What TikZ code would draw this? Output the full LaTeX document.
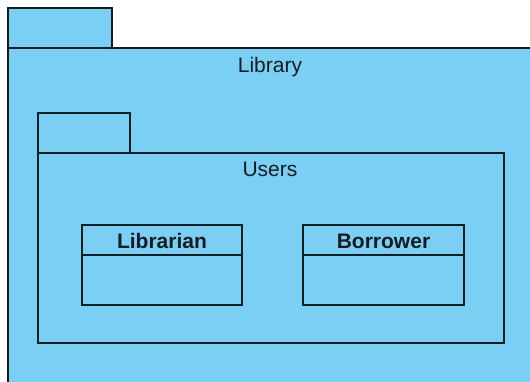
\documentclass[tikz,border=0pt]{standalone}
\usepackage{fontspec}
\setmainfont{Liberation Sans}
\definecolor{pkgblue}{HTML}{7ACFF5}
\definecolor{edge}{HTML}{151B1F}
\tikzset{
  shape box/.style={fill=pkgblue, draw=edge, line width=1.6pt},
  pkglabel/.style={inner sep=0pt, font=\fontsize{21}{25}\selectfont, text=edge},
  classlabel/.style={inner sep=0pt, font=\fontsize{21}{25}\selectfont\bfseries, text=edge}
}
\begin{document}
\begin{tikzpicture}[x=1pt,y=-1pt]
  \useasboundingbox (0,0) rectangle (530,381);
  \clip (0,0) rectangle (530,381);
  \fill[white] (0,0) rectangle (530,381);

  % outer package: Library
  \draw[shape box] (8,8) rectangle (112,48);
  \draw[shape box] (8,48) rectangle (548,400);
  \node[pkglabel] (library) at (270,67) {Library};

  % inner package: Users
  \draw[shape box] (38,113) rectangle (130,153);
  \draw[shape box] (38,153) rectangle (504,343);
  \node[pkglabel] (users) at (270,169) {Users};

  % class Librarian
  \draw[shape box] (82,225) rectangle (242,305);
  \draw[edge, line width=1.6pt] (82,255) -- (242,255);
  \node[classlabel] (librarian) at (162,241) {Librarian};

  % class Borrower
  \draw[shape box] (303,225) rectangle (464,305);
  \draw[edge, line width=1.6pt] (303,255) -- (464,255);
  \node[classlabel] (borrower) at (383.5,241) {Borrower};
\end{tikzpicture}
\end{document}
